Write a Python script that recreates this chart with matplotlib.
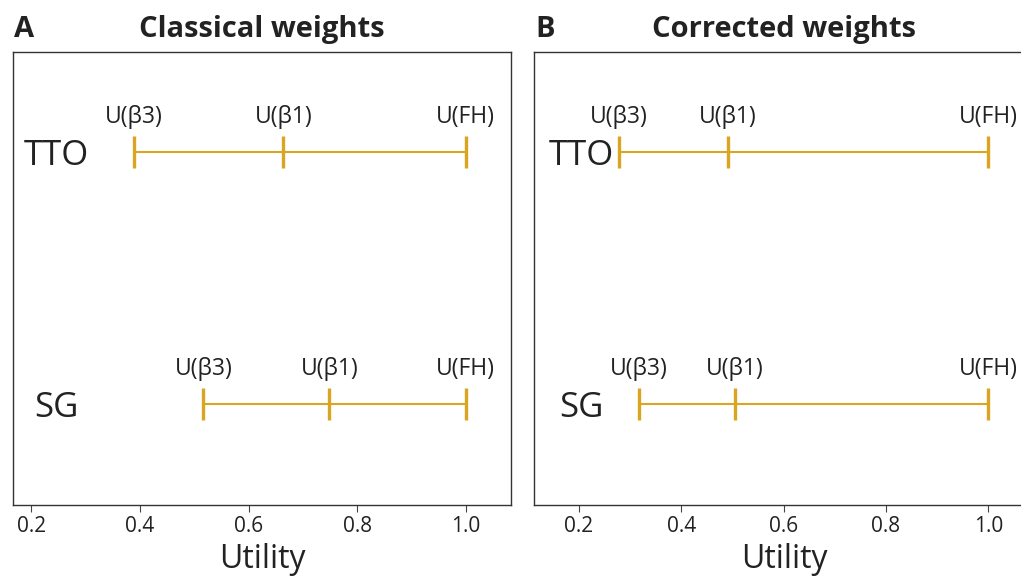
import matplotlib
matplotlib.use("Agg")
import matplotlib.pyplot as plt

plt.rcParams['font.family'] = ['Open Sans', 'DejaVu Sans']

methods = ["TTO", "SG"]
point_labels = ["U(β3)", "U(β1)", "U(FH)"]

# utilities, order: beta3, beta1, full health
classical_tto = [0.389, 0.664, 1.0]
classical_sg = [0.517, 0.749, 1.0]
corrected_tto = [0.278, 0.491, 1.0]
corrected_sg = [0.317, 0.505, 1.0]

# panel B runs past the right edge of the figure, as in the original
panels = [
	("A", "Classical weights", classical_tto, classical_sg, (0.166, 1.083), 0.488, 262),
	("B", "Corrected weights", corrected_tto, corrected_sg, (0.113, 1.150), 0.52, 784),
]

gold = "#DAA520"
txt = "#222222"

W, H = 1021, 582
fig = plt.figure(figsize=(W / 100, H / 100), dpi=100)
lefts = [0.01244, 0.5233]

for left, (letter, title, tto, sg, xlim, width, title_px) in zip(lefts, panels):
	ax = fig.add_axes([left, 0.1323, width, 0.779])
	rows = {2: tto, 1: sg}
	for (y, vals), name in zip(rows.items(), methods):
		ax.plot(vals, [y] * len(vals), color=gold, lw=1.5, solid_capstyle="butt")
		ax.plot(vals, [y] * len(vals), ls="none", marker="|", markersize=23.5,
				mew=2.4, color=gold)
		for v, lab in zip(vals, point_labels):
			ax.annotate(lab, (v, y), xytext=(0, 16.5), textcoords="offset points",
						ha="center", va="bottom", fontsize=16.5, color=txt)
		ax.text(0.088, y - 0.016, name, transform=ax.get_yaxis_transform(),
				ha="center", va="center", fontsize=25, color=txt)
	ax.set_xlim(*xlim)
	ax.set_ylim(0.6, 2.4)
	ax.set_yticks([])
	ax.set_xticks([0.2, 0.4, 0.6, 0.8, 1.0])
	ax.set_xticklabels(["0.2", "0.4", "0.6", "0.8", "1.0"])
	ax.tick_params(axis="x", labelsize=15, length=5, width=0.8, colors="#444444",
				   labelcolor=txt, pad=3)
	for sp in ax.spines.values():
		sp.set_color("#333333")
		sp.set_linewidth(1.0)
	ax.set_xlabel("Utility", fontsize=23, color=txt)
	ax.xaxis.set_label_coords(title_px / W, 6 / H, transform=fig.transFigure)
	ax.xaxis.label.set_va("bottom")
	fig.text(title_px / W, (H - 37) / H, title, ha="center", va="baseline",
			 fontsize=21, fontweight="bold", color=txt)
	fig.text((left * W + 1) / W, (H - 37) / H, letter, ha="left", va="baseline",
			 fontsize=21, fontweight="bold", color=txt)

fig.savefig("out.png", dpi=100)
